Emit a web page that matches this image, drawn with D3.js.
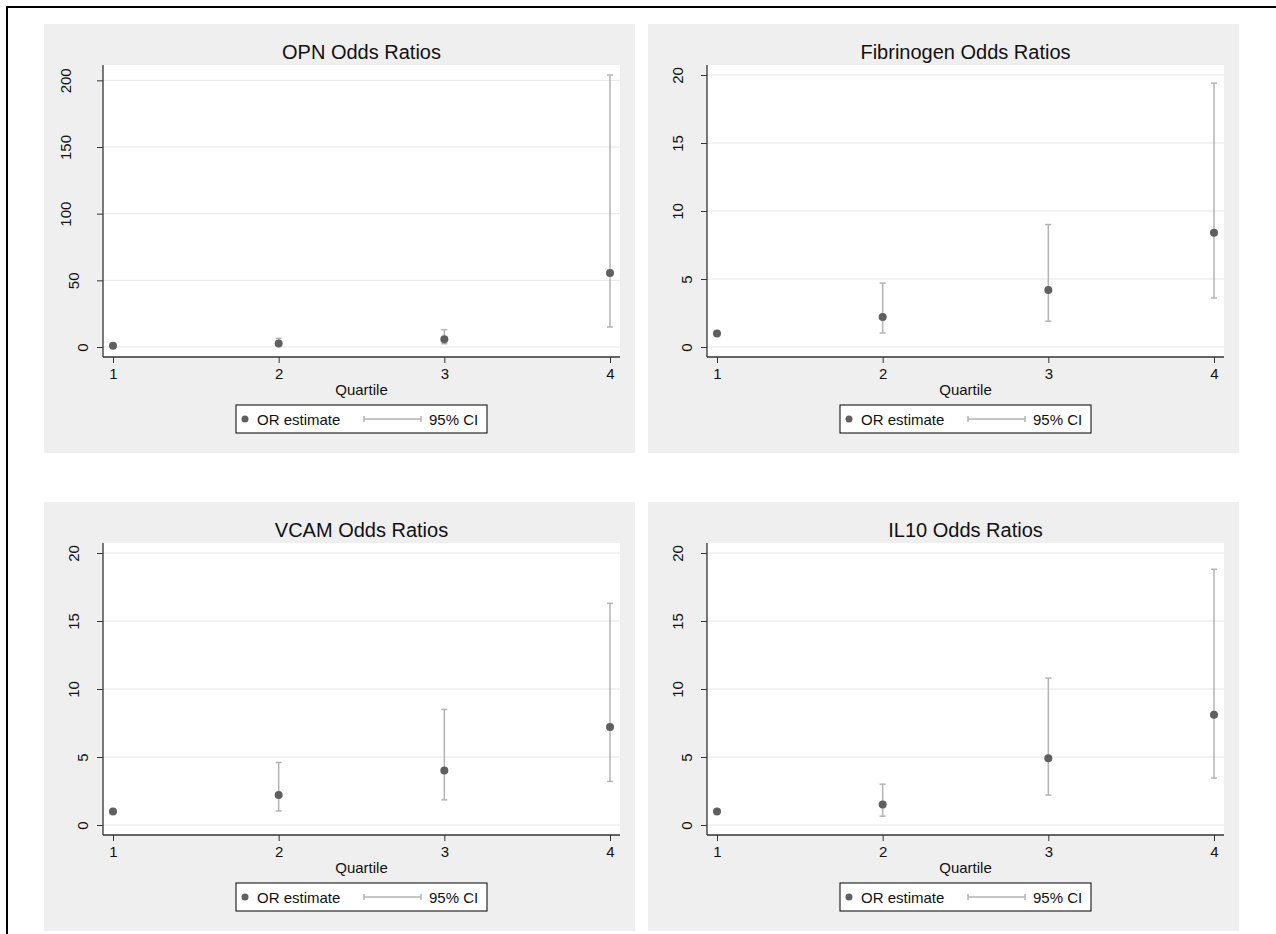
<!DOCTYPE html>
<html>
<head>
<meta charset="utf-8">
<script src="https://cdn.jsdelivr.net/npm/d3@7/dist/d3.min.js"></script>
<style>
  html, body { margin: 0; padding: 0; background: #ffffff; }
  svg { display: block; font-family: "Liberation Sans", Arial, Helvetica, sans-serif; }
</style>
</head>
<body>
<svg id="chart" width="1276" height="934"></svg>
<script>
// ---------- data ----------
const quartiles = [1, 2, 3, 4];
const panelTitles = ["OPN Odds Ratios", "Fibrinogen Odds Ratios", "VCAM Odds Ratios", "IL10 Odds Ratios"];
const xAxisTitle = "Quartile";
const legendLabels = ["OR estimate", "95% CI"];

const opnOR = [1, 2.7, 5.8, 55.5];
const opnLo = [null, 1.1, 2.5, 15];
const opnHi = [null, 6.5, 13, 204];

const fibOR = [1, 2.2, 4.2, 8.4];
const fibLo = [null, 1.03, 1.9, 3.6];
const fibHi = [null, 4.7, 9.0, 19.4];

const vcamOR = [1, 2.2, 4.0, 7.2];
const vcamLo = [null, 1.03, 1.85, 3.2];
const vcamHi = [null, 4.6, 8.5, 16.3];

const il10OR = [1, 1.5, 4.9, 8.1];
const il10Lo = [null, 0.65, 2.2, 3.45];
const il10Hi = [null, 3.0, 10.8, 18.8];

const opnTicks = [0, 50, 100, 150, 200];
const smallTicks = [0, 5, 10, 15, 20];
const xTicks = [1, 2, 3, 4];

const panels = [
  { title: panelTitles[0], or: opnOR, lo: opnLo, hi: opnHi, yTicks: opnTicks },
  { title: panelTitles[1], or: fibOR, lo: fibLo, hi: fibHi, yTicks: smallTicks },
  { title: panelTitles[2], or: vcamOR, lo: vcamLo, hi: vcamHi, yTicks: smallTicks },
  { title: panelTitles[3], or: il10OR, lo: il10Lo, hi: il10Hi, yTicks: smallTicks }
];

// ---------- styles ----------
const PANEL_BG = "#efefef";
const GRID = "#e6e6e6";
const AXIS = "#333333";
const POINT = "#5f5f5f";
const CI = "#b3b3b3";
const FONT = "'Liberation Sans', Arial, sans-serif";

const svg = d3.select("#chart");

// outer frame
svg.append("rect")
  .attr("x", 7).attr("y", 7).attr("width", 1290).attr("height", 950)
  .attr("fill", "none").attr("stroke", "#000").attr("stroke-width", 2);

panels.forEach((p, i) => {
  const col = i % 2, row = Math.floor(i / 2);
  const gx = 44 + col * 604, gy = 24 + row * 478;
  const g = svg.append("g").attr("transform", `translate(${gx},${gy})`);

  // panel background
  g.append("rect").attr("x", 0).attr("y", 0).attr("width", 591).attr("height", 429).attr("fill", PANEL_BG);

  // plot region
  const px0 = 59, px1 = 576, py0 = 41, py1 = 333;
  const margin = 10;
  g.append("rect").attr("x", px0).attr("y", py0).attr("width", px1 - px0).attr("height", py1 - py0).attr("fill", "#fff");

  const allVals = p.or.concat(p.lo.filter(v => v != null), p.hi.filter(v => v != null));
  const yMin = Math.min(d3.min(p.yTicks), d3.min(allVals));
  const yMax = Math.max(d3.max(p.yTicks), d3.max(allVals));

  const x = d3.scaleLinear().domain([d3.min(quartiles), d3.max(quartiles)]).range([px0 + margin, px1 - margin]);
  const y = d3.scaleLinear().domain([yMin, yMax]).range([py1 - margin, py0 + margin]);

  // gridlines
  g.append("g").selectAll("line").data(p.yTicks).join("line")
    .attr("x1", px0).attr("x2", px1)
    .attr("y1", d => y(d)).attr("y2", d => y(d))
    .attr("stroke", GRID).attr("stroke-width", 1);

  // y axis
  const yAxis = g.append("g").attr("transform", `translate(${px0},0)`)
    .call(d3.axisLeft(y).tickValues(p.yTicks).tickSize(6).tickSizeOuter(0).tickFormat(d3.format("d")));
  yAxis.select(".domain").remove();
  yAxis.selectAll(".tick line").attr("stroke", AXIS).attr("stroke-width", 1);
  yAxis.selectAll(".tick text")
    .attr("x", null).attr("dy", null)
    .attr("text-anchor", "middle")
    .attr("font-size", 15).attr("fill", "#111")
    .attr("font-family", FONT)
    .attr("transform", function () {
      const w = this.getComputedTextLength();
      return `translate(${-(7 + w)},0) rotate(-90)`;
    });

  // x axis
  const xAxis = g.append("g").attr("transform", `translate(0,${py1})`)
    .call(d3.axisBottom(x).tickValues(xTicks).tickSize(6).tickSizeOuter(0).tickFormat(d3.format("d")));
  xAxis.select(".domain").remove();
  xAxis.selectAll(".tick line").attr("stroke", AXIS).attr("stroke-width", 1);
  xAxis.selectAll(".tick text")
    .attr("y", 22).attr("dy", null)
    .attr("font-size", 15).attr("fill", "#111")
    .attr("font-family", FONT);

  // axis lines along plot region
  g.append("line").attr("x1", px0).attr("x2", px0).attr("y1", py0).attr("y2", py1)
    .attr("stroke", AXIS).attr("stroke-width", 1.3);
  g.append("line").attr("x1", px0).attr("x2", px1).attr("y1", py1).attr("y2", py1)
    .attr("stroke", AXIS).attr("stroke-width", 1.3);

  // CI bars
  const ciData = quartiles.map((q, k) => ({ q, lo: p.lo[k], hi: p.hi[k] })).filter(d => d.lo != null);
  const ci = g.append("g");
  ci.selectAll("line.bar").data(ciData).join("line").attr("class", "bar")
    .attr("x1", d => x(d.q)).attr("x2", d => x(d.q))
    .attr("y1", d => y(d.lo)).attr("y2", d => y(d.hi))
    .attr("stroke", CI).attr("stroke-width", 1.5);
  ["lo", "hi"].forEach(k => {
    ci.selectAll("line.cap" + k).data(ciData).join("line").attr("class", "cap" + k)
      .attr("x1", d => x(d.q) - 3).attr("x2", d => x(d.q) + 3)
      .attr("y1", d => y(d[k])).attr("y2", d => y(d[k]))
      .attr("stroke", CI).attr("stroke-width", 1.5);
  });

  // points
  g.append("g").selectAll("circle").data(quartiles.map((q, k) => ({ q, v: p.or[k] }))).join("circle")
    .attr("cx", d => x(d.q)).attr("cy", d => y(d.v)).attr("r", 4)
    .attr("fill", POINT);

  const cx = (px0 + px1) / 2;
  // title
  g.append("text").attr("x", cx).attr("y", 35).attr("text-anchor", "middle")
    .attr("font-size", 20).attr("fill", "#111").text(p.title);
  // x axis title
  g.append("text").attr("x", cx).attr("y", 371).attr("text-anchor", "middle")
    .attr("font-size", 15).attr("fill", "#111").text(xAxisTitle);

  // legend
  const lw = 251, lh = 28, lx = cx - lw / 2, ly = 381;
  const lg = g.append("g").attr("transform", `translate(${lx},${ly})`);
  lg.append("rect").attr("x", 0).attr("y", 0).attr("width", lw).attr("height", lh)
    .attr("fill", "#fff").attr("stroke", "#000").attr("stroke-width", 1);
  lg.append("circle").attr("cx", 9).attr("cy", 14).attr("r", 3.5).attr("fill", POINT);
  lg.append("text").attr("x", 21).attr("y", 20).attr("font-size", 15).attr("fill", "#111").text(legendLabels[0]);
  lg.append("line").attr("x1", 128).attr("x2", 185).attr("y1", 14).attr("y2", 14).attr("stroke", CI).attr("stroke-width", 1.5);
  [128, 185].forEach(xx => lg.append("line").attr("x1", xx).attr("x2", xx).attr("y1", 11).attr("y2", 17).attr("stroke", CI).attr("stroke-width", 1.5));
  lg.append("text").attr("x", 193).attr("y", 20).attr("font-size", 15).attr("fill", "#111").text(legendLabels[1]);
});
</script>
</body>
</html>
